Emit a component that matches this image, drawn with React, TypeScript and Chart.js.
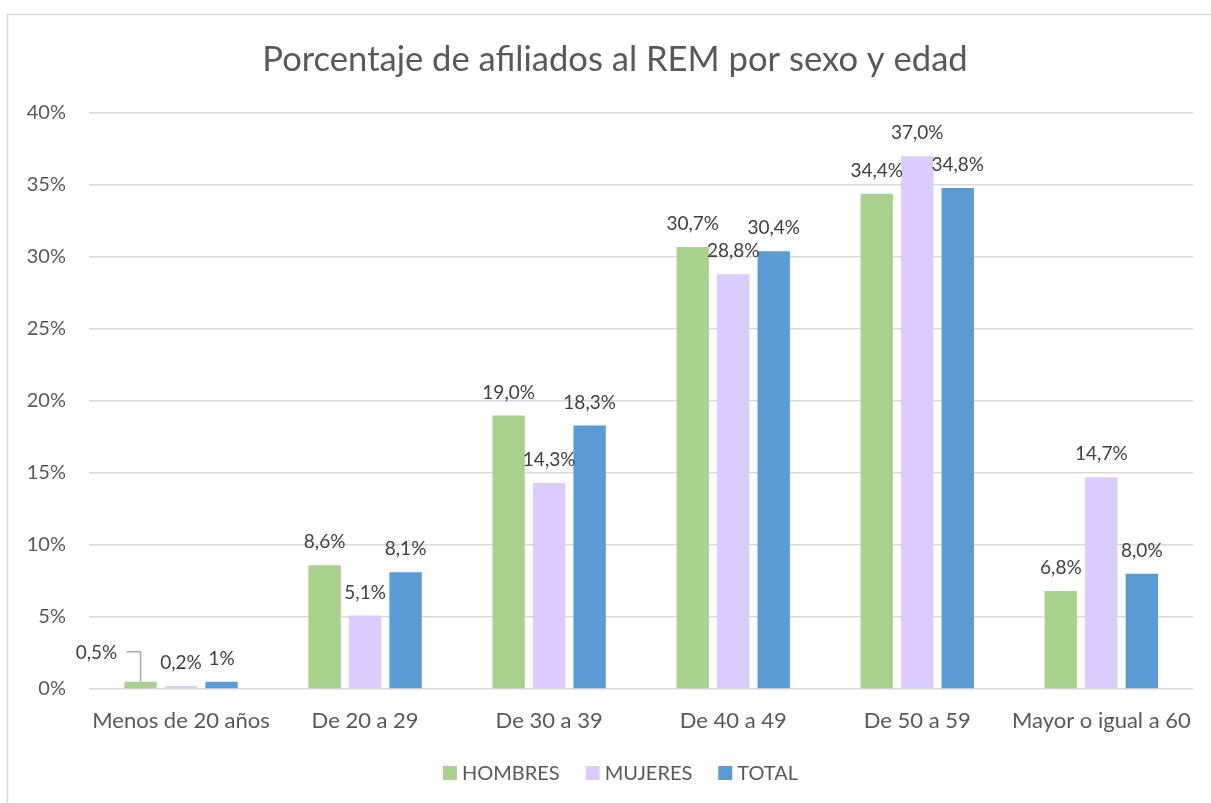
import React, { useEffect, useRef } from "react";
import { Chart, registerables } from "chart.js";

Chart.register(...registerables);

const categories = [
  "Menos de 20 años",
  "De 20 a 29",
  "De 30 a 39",
  "De 40 a 49",
  "De 50 a 59",
  "Mayor o igual a 60",
];
const hombres = [0.5, 8.6, 19.0, 30.7, 34.4, 6.8];
const mujeres = [0.2, 5.1, 14.3, 28.8, 37.0, 14.7];
const total = [0.5, 8.1, 18.3, 30.4, 34.8, 8.0];
const totalLabels = ["1%", "8,1%", "18,3%", "30,4%", "34,8%", "8,0%"];
const yTicks = [0, 5, 10, 15, 20, 25, 30, 35, 40];
const TITLE = "Porcentaje de afiliados al REM por sexo y edad";

const fmt = (v: number) => v.toFixed(1).replace(".", ",") + "%";
const seriesLabels = [hombres.map(fmt), mujeres.map(fmt), totalLabels];

const FONT = "Lato";
const TEXT = "#595959";

const frameTitlePlugin = {
  id: "frameTitle",
  beforeDraw(chart: any) {
    const ctx = chart.ctx;
    ctx.save();
    ctx.fillStyle = "#ffffff";
    ctx.fillRect(0, 0, chart.width, chart.height);
    ctx.strokeStyle = "#d9d9d9";
    ctx.lineWidth = 1.5;
    ctx.strokeRect(7.5, 14.5, chart.width + 20, chart.height + 20);
    ctx.restore();
  },
  afterDraw(chart: any) {
    const ctx = chart.ctx;
    ctx.save();
    // title
    ctx.font = `34.6px ${FONT}`;
    ctx.fillStyle = TEXT;
    ctx.textAlign = "center";
    ctx.textBaseline = "middle";
    ctx.fillText(TITLE, 615, 60);
    // legend
    ctx.font = `20px ${FONT}`;
    ctx.textAlign = "left";
    const ds = chart.data.datasets;
    const box = 14;
    const gap = 5;
    const itemGap = 26;
    const widths = ds.map((d: any) => box + gap + ctx.measureText(d.label).width);
    const totalW = widths.reduce((a: number, b: number) => a + b, 0) + itemGap * (ds.length - 1);
    let x = 620.5 - totalW / 2;
    const cy = 773;
    ds.forEach((d: any, i: number) => {
      ctx.fillStyle = d.backgroundColor;
      ctx.fillRect(x, cy - box / 2, box, box);
      ctx.fillStyle = TEXT;
      ctx.fillText(d.label, x + box + gap, cy + 1);
      x += widths[i] + itemGap;
    });
    ctx.restore();
  },
};

const dataLabelPlugin = {
  id: "dataLabels",
  afterDatasetsDraw(chart: any) {
    const ctx = chart.ctx;
    ctx.save();
    ctx.font = `19px ${FONT}`;
    ctx.fillStyle = "#404040";
    ctx.textAlign = "center";
    ctx.textBaseline = "middle";
    chart.data.datasets.forEach((_ds: any, di: number) => {
      const meta = chart.getDatasetMeta(di);
      meta.data.forEach((el: any, i: number) => {
        const { x, y } = el.getProps(["x", "y"], true);
        const text = seriesLabels[di][i];
        if (di === 0 && i === 0) {
          // callout label with leader line
          const lx = x - 44;
          const ly = y - 29;
          ctx.fillText(text, lx, ly);
          ctx.strokeStyle = "#a6a6a6";
          ctx.lineWidth = 1.5;
          ctx.beginPath();
          ctx.moveTo(lx + 30, ly - 1);
          ctx.lineTo(x, ly - 1);
          ctx.lineTo(x, y);
          ctx.stroke();
        } else {
          ctx.fillText(text, x, y - 23);
        }
      });
    });
    ctx.restore();
  },
};

export default function App() {
  const ref = useRef<HTMLCanvasElement | null>(null);
  useEffect(() => {
    if (!ref.current) return;
    const chart = new Chart(ref.current, {
      type: "bar",
      data: {
        labels: categories,
        datasets: [
          { label: "HOMBRES", data: hombres, backgroundColor: "#A9D18E" },
          { label: "MUJERES", data: mujeres, backgroundColor: "#DCCBFF" },
          { label: "TOTAL", data: total, backgroundColor: "#5B9BD5" },
        ],
      },
      options: {
        responsive: false,
        animation: false,
        layout: { padding: { left: 7, right: 15, top: 113, bottom: 63 } },
        datasets: {
          bar: { categoryPercentage: 0.66, barPercentage: 0.8 },
        },
        plugins: {
          title: { display: false },
          legend: { display: false },
          tooltip: { enabled: false },
        },
        scales: {
          x: {
            grid: { display: false, drawTicks: false },
            border: { display: false },
            ticks: {
              color: TEXT,
              font: { family: FONT, size: 22 },
              padding: 19,
              maxRotation: 0,
              autoSkip: false,
            },
            afterFit: (s: any) => {
              s.height = 51;
            },
          },
          y: {
            min: 0,
            max: 40,
            grid: { color: "#d9d9d9", lineWidth: 1.5, drawTicks: false },
            border: { display: false },
            afterBuildTicks: (s: any) => {
              s.ticks = yTicks.map((v) => ({ value: v }));
            },
            ticks: {
              color: TEXT,
              font: { family: FONT, size: 20 },
              padding: 23,
              callback: (v: any) => v + "%",
            },
            afterFit: (s: any) => {
              s.width = 82;
            },
          },
        },
      },
      plugins: [frameTitlePlugin, dataLabelPlugin],
    });
    return () => chart.destroy();
  }, []);
  return (
    <div style={{ position: "absolute", left: 0, top: 0, width: 1211, height: 803 }}>
      <canvas ref={ref} width={1211} height={803} />
    </div>
  );
}
